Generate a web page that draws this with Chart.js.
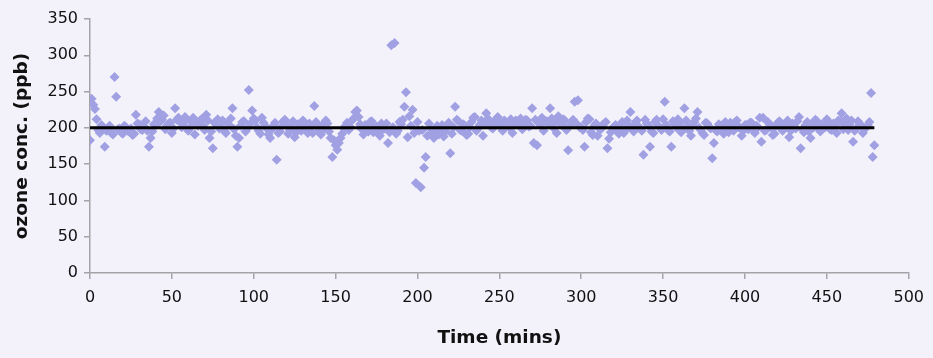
<!DOCTYPE html>
<html>
<head>
<meta charset="utf-8">
<script src="https://cdn.jsdelivr.net/npm/chart.js@4/dist/chart.umd.min.js"></script>
<style>
  html, body { margin: 0; padding: 0; background: #f3f2fb; }
  #wrap { width: 933px; height: 358px; }
</style>
</head>
<body>
<div id="wrap"><canvas id="c" width="933" height="358"></canvas></div>
<script>
// Ozone readings (ppb) against time (mins)
const minutes = [0,1,2,3,4,5,6,8,9,10,12,14,15,16,17,19,21,23,25,27,28,30,32,34,36,37,38,40,42,44,46,48,50,52,54,56,58,60,62,64,66,68,70,71,73,75,77,79,81,83,85,87,88,90,91,93,95,97,99,100,102,104,106,108,110,112,114,116,118,119,121,123,125,127,129,131,133,135,137,139,141,143,145,147,148,150,151,152,154,156,158,160,162,163,165,167,169,171,173,175,177,179,181,182,184,186,188,190,191,192,193,194,195,197,198,199,200,201,202,204,205,206,208,210,212,214,216,218,220,221,223,224,226,228,230,232,234,236,238,240,242,244,246,248,250,252,254,256,258,260,262,264,266,268,270,271,273,275,277,279,281,283,285,287,289,291,292,294,296,298,300,302,304,306,308,310,312,314,315,316,317,319,321,323,325,327,329,330,332,334,336,338,340,342,344,346,348,351,353,355,357,359,361,363,365,367,369,371,373,375,377,379,380,381,383,385,387,389,391,393,394,396,398,400,402,404,406,408,409,410,411,413,415,417,419,421,423,425,427,429,431,433,434,436,438,440,442,444,446,448,450,452,454,456,458,459,461,463,465,466,468,470,472,474,476,477,478,479];
const ozone = [183,240,232,226,212,197,193,200,174,196,203,191,270,243,198,194,203,196,199,192,218,205,197,209,174,186,195,203,222,211,198,206,193,227,214,201,215,196,208,191,203,212,197,218,186,172,205,199,210,193,204,227,198,174,186,208,195,252,224,213,201,192,207,199,186,203,156,195,209,211,192,200,187,205,196,208,193,201,230,204,191,198,206,186,160,176,170,179,192,203,197,210,222,224,205,191,199,208,194,202,189,198,206,179,314,317,196,205,211,229,249,187,216,225,193,124,208,196,118,145,160,189,199,186,203,194,188,200,165,192,229,211,197,205,190,201,214,196,204,189,220,207,199,212,203,196,208,201,193,210,205,198,211,202,227,179,176,204,196,209,227,200,193,207,212,197,169,205,236,238,201,174,213,194,203,189,198,206,208,172,185,199,204,192,208,197,203,222,195,210,199,163,206,174,193,211,201,236,197,174,205,212,194,227,203,189,208,222,197,190,206,199,158,179,195,203,192,200,207,196,208,201,189,204,198,207,193,201,214,181,214,197,205,190,203,209,196,202,187,206,199,215,172,194,208,186,201,209,195,203,212,198,206,193,209,220,204,197,210,181,199,206,193,201,208,248,160,176];
// Second batch of readings, the dense band between the points above
const minutesB = [7,11,13,18,20,22,24,26,29,31,33,35,39,41,43,45,47,49,51,53,55,57,59,61,63,65,67,69,72,74,76,78,80,82,84,86,89,92,94,96,98,101,103,105,107,109,111,113,115,117,120,122,124,126,128,130,132,134,136,138,140,142,144,146,149,153,155,157,159,161,164,166,168,170,172,174,176,178,180,183,185,187,189,196,203,207,209,211,213,215,217,219,222,225,227,229,231,233,235,237,239,241,243,245,247,249,251,253,255,257,259,261,263,265,267,269,272,274,276,278,280,282,284,286,288,290,293,295,297,299,301,303,305,307,309,311,313,318,320,322,324,326,328,331,333,335,337,339,341,343,345,347,349,350,352,354,356,358,360,362,364,366,368,370,372,374,376,378,382,384,386,388,390,392,395,397,399,401,403,405,407,412,414,416,418,420,422,424,426,428,430,432,435,437,439,441,443,445,447,449,451,453,455,457,460,462,464,467,469,471,473,475];
const ozoneB = [204,197,193,199,192,201,195,190,206,198,202,196,205,213,209,217,203,207,199,211,208,204,212,200,214,206,209,203,210,195,207,212,201,196,206,213,189,203,209,199,206,210,196,214,203,191,198,207,193,202,205,197,209,194,203,210,199,206,193,208,197,204,210,195,183,186,199,207,201,213,215,198,204,195,209,201,193,206,199,194,201,192,208,203,197,206,193,199,191,204,195,207,201,209,196,203,192,208,215,199,210,205,213,201,208,215,204,210,206,212,204,209,213,206,210,203,211,207,214,209,205,213,208,216,204,210,203,211,206,201,197,208,212,190,206,199,204,194,202,197,205,193,210,199,207,202,196,211,203,195,208,203,197,212,204,195,209,201,206,198,210,196,204,213,200,193,207,202,197,205,199,208,194,205,210,200,196,204,207,199,203,196,208,201,192,207,199,204,210,196,202,209,198,204,195,206,211,199,205,201,208,197,203,210,198,213,205,196,209,202,198,204];
// Reference line
const fitMinutes = [0, 479];
const fitOzone = [200, 200];
// Axis ticks
const xTicks = [0,50,100,150,200,250,300,350,400,450,500];
const yTicks = [0,50,100,150,200,250,300,350];

const scatterData = minutes.map((m, i) => ({ x: m, y: ozone[i] }))
  .concat(minutesB.map((m, i) => ({ x: m, y: ozoneB[i] })));
const fitData = fitMinutes.map((m, i) => ({ x: m, y: fitOzone[i] }));

const axisGray = '#a3a3a8';
const tickFont = { family: "'DejaVu Sans', sans-serif", size: 16 };
const titleFont = { family: "'DejaVu Sans', sans-serif", size: 18.5, weight: 'bold' };

new Chart(document.getElementById('c'), {
  type: 'scatter',
  data: {
    datasets: [
      {
        type: 'line',
        data: fitData,
        borderColor: '#000000',
        borderWidth: 3,
        pointRadius: 0,
        fill: false,
        order: 0
      },
      {
        data: scatterData,
        pointStyle: 'rectRot',
        pointRadius: 5,
        backgroundColor: '#a0a0e3',
        borderColor: '#a0a0e3',
        borderWidth: 0,
        order: 1
      }
    ]
  },
  options: {
    responsive: false,
    animation: false,
    events: [],
    layout: { padding: { top: 19, right: 20, left: 0, bottom: 0 } },
    plugins: { legend: { display: false }, tooltip: { enabled: false } },
    scales: {
      x: {
        type: 'linear',
        min: 0, max: 500,
        afterBuildTicks: s => { s.ticks = xTicks.map(v => ({ value: v })); },
        afterFit: s => { s.height = 85; },
        ticks: { font: tickFont, color: '#111', padding: 9, maxRotation: 0 },
        grid: { drawOnChartArea: false, drawTicks: true, tickLength: 6, color: axisGray, lineWidth: 1.5 },
        border: { display: true, color: axisGray, width: 1.5 },
        title: { display: true, text: 'Time (mins)', font: titleFont, color: '#111', padding: { top: 0, bottom: 9 } }
      },
      y: {
        type: 'linear',
        min: 0, max: 350,
        afterBuildTicks: s => { s.ticks = yTicks.map(v => ({ value: v })); },
        afterFit: s => { s.width = 90; },
        ticks: { font: tickFont, color: '#111', padding: 6 },
        grid: { drawOnChartArea: false, drawTicks: true, tickLength: 6, color: axisGray, lineWidth: 1.5 },
        border: { display: true, color: axisGray, width: 1.5 },
        title: { display: true, text: 'ozone conc. (ppb)', font: titleFont, color: '#111', padding: { top: 11, bottom: 0 } }
      }
    }
  }
});
</script>
</body>
</html>
